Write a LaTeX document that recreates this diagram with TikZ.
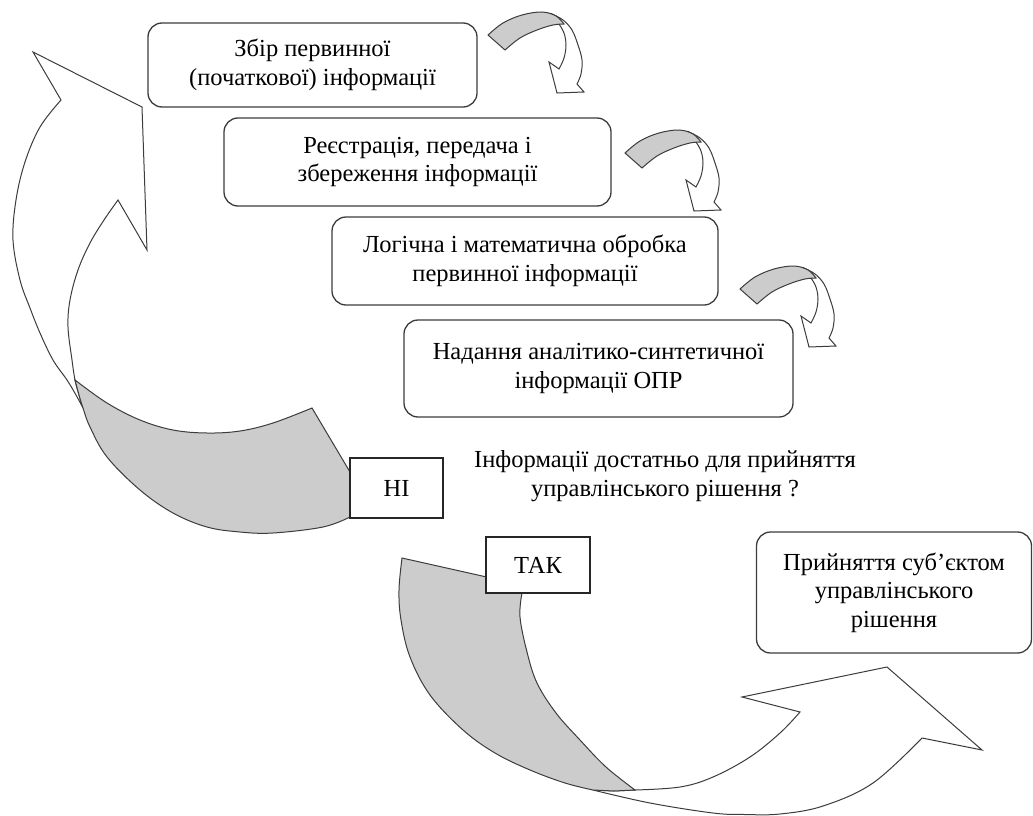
\documentclass[tikz,border=0pt]{standalone}
\usepackage{fontspec}
\setmainfont{Liberation Serif}
\definecolor{edge}{RGB}{60,60,60}
\definecolor{shade}{RGB}{204,204,204}
\begin{document}
\begin{tikzpicture}[x=1pt,y=-1pt,
  txt/.style={font=\fontsize{24.5}{28.5}\selectfont, align=center, text=black},
  box/.style={txt, draw=edge, line width=1.3pt, rounded corners=14pt, fill=white, inner sep=0pt},
  tag/.style={txt, draw=black!85, line width=1.3pt, fill=white, inner sep=0pt},
  band/.style={draw=edge, line width=1pt, fill=white, line join=miter},
  back/.style={draw=edge, line width=1pt, fill=shade, line join=miter}]
\useasboundingbox (0,0) rectangle (1033,816);

% ---- big left arrow (NI) ----
\draw[band] (61,100) -- (33,52) -- (142,107) -- (147,250) -- (118,200)
  -- plot[smooth,tension=0.6] coordinates {(118,200) (104,220) (90,243) (78,270) (70,300) (68,327) (72,360) (75,380) (79,395) (83,408)}
  -- plot[smooth,tension=0.6] coordinates {(83,408) (76,395) (67,380) (53,360) (40,333) (30,308) (20,280) (13,240) (16,200) (25,162) (40,127) (61,100)}
  -- cycle;
\draw[back] plot[smooth,tension=0.6] coordinates {(75,380) (107,403) (140,420) (173,430) (207,433) (240,431) (273,423) (312,408)}
  -- (350,472) -- (365,480) -- (365,517) -- (350,517)
  -- plot[smooth,tension=0.6] coordinates {(350,517) (323,527) (273,533) (240,532) (207,527) (173,513) (140,490) (107,457) (90,427) (83,408) (79,395) (75,380)}
  -- cycle;

% ---- bottom arrow (TAK) ----
\draw[band] plot[smooth,tension=0.6] coordinates {(593,790) (650,803) (713,813) (745,814.5) (780,814) (823,806) (873,783) (922,738)}
  -- (982,750) -- (887,667) -- (742,697) -- (800,712)
  -- plot[smooth,tension=0.6] coordinates {(800,712) (780,733) (750,757) (713,777) (680,787) (635,790)}
  -- (614,791) -- cycle;
\draw[back] (402,558) -- (500,580) -- (528,582) -- (522,593)
  -- plot[smooth,tension=0.6] coordinates {(522,593) (520,617) (527,652) (537,683) (556,713) (580,740) (606,767) (635,790)}
  -- (614,791) -- (593,790)
  -- plot[smooth,tension=0.6] coordinates {(593,790) (565,783) (530,770) (495,753) (463,730) (430,695) (410,657) (401,620) (399,590) (402,558)}
  -- cycle;

% ---- small curled arrows ----
\foreach \dx/\dy in {0/0,137/118,252/254}{
\begin{scope}[shift={(\dx,\dy)}]
\draw[band] plot[smooth,tension=0.6] coordinates {(552,14) (563,20) (572,30) (578,45) (582,60) (581,74) (577,84)}
  -- (584,92) -- (557,93) -- (549,62) -- (559,69)
  -- plot[smooth,tension=0.6] coordinates {(559,69) (564,58) (566,45) (564,33) (559,24)} -- cycle;
\draw[back] plot[smooth,tension=0.6] coordinates {(488,35) (503,23) (522,15) (542,12) (556,16) (564,24)}
  -- plot[smooth,tension=0.6] coordinates {(564,24) (553,25) (537,30) (520,38) (505,50)} -- cycle;
\end{scope}}

% ---- boxes ----
\node[box, minimum width=329pt, minimum height=84pt] (b1) at (312.5,65) {Збір первинної\\(початкової) інформації};
\node[box, minimum width=387pt, minimum height=88pt] (b2) at (417.5,162) {Реєстрація, передача і\\збереження інформації};
\node[box, minimum width=386pt, minimum height=88pt] (b3) at (525,261) {Логічна і математична обробка\\первинної інформації};
\node[box, minimum width=389pt, minimum height=97pt] (b4) at (598.5,368.5) {Надання аналітико-синтетичної\\інформації ОПР};
\node[txt] (q) at (665,476) {Інформації достатньо для прийняття\\управлінського рішення ?};
\node[tag, minimum width=93pt, minimum height=60pt] (ni) at (396.5,488) {НІ};
\node[tag, minimum width=104pt, minimum height=56pt] (tak) at (538,565) {ТАК};
\node[box, minimum width=275pt, minimum height=121pt] (b5) at (894,592.5) {Прийняття суб’єктом\\управлінського\\рішення};
\end{tikzpicture}
\end{document}
